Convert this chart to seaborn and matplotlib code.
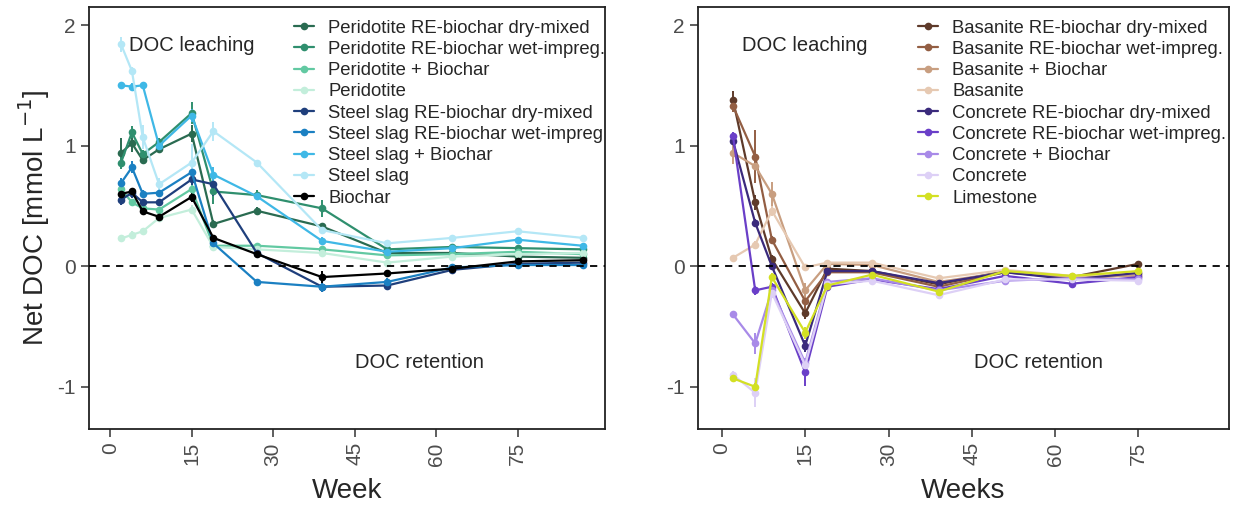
import numpy as np
import pandas as pd
import matplotlib
matplotlib.use("Agg")
import matplotlib.pyplot as plt
import seaborn as sns

# ---------------- data ----------------
weeks_left = [2, 4, 6, 9, 15, 19, 27, 39, 51, 63, 75, 87]
weeks_right = [2, 6, 9, 15, 19, 27, 39, 51, 63, 75]

labels_left = ["Peridotite RE-biochar dry-mixed", "Peridotite RE-biochar wet-impreg.",
               "Peridotite + Biochar", "Peridotite", "Steel slag RE-biochar dry-mixed",
               "Steel slag RE-biochar wet-impreg", "Steel slag + Biochar", "Steel slag", "Biochar"]
colors_left = ["#2a6b51", "#2f8f6e", "#62c9a2", "#c3eedb", "#1f3f7c",
               "#1b80c2", "#3fb8e6", "#b4e7f6", "#000000"]

per_dry = [0.94, 1.02, 0.88, 0.97, 1.10, 0.35, 0.46, 0.33, 0.11, 0.11, 0.08, 0.07]
per_wet = [0.86, 1.11, 0.93, 1.03, 1.27, 0.62, 0.59, 0.48, 0.14, 0.16, 0.15, 0.14]
per_bc = [0.64, 0.53, 0.48, 0.47, 0.64, 0.17, 0.17, 0.14, 0.09, 0.10, 0.12, 0.10]
per = [0.23, 0.26, 0.29, 0.40, 0.47, 0.16, 0.14, 0.11, 0.03, 0.08, 0.10, 0.11]
ss_dry = [0.55, 0.61, 0.53, 0.53, 0.72, 0.68, 0.11, -0.17, -0.16, -0.03, 0.02, 0.03]
ss_wet = [0.69, 0.82, 0.60, 0.61, 0.78, 0.19, -0.13, -0.17, -0.13, -0.01, 0.01, 0.01]
ss_bc = [1.50, 1.49, 1.50, 1.00, 1.25, 0.76, 0.58, 0.21, 0.12, 0.15, 0.22, 0.17]
ss = [1.84, 1.62, 1.07, 0.68, 0.86, 1.12, 0.86, 0.30, 0.19, 0.235, 0.29, 0.235]
biochar = [0.60, 0.62, 0.455, 0.41, 0.575, 0.235, 0.10, -0.09, -0.06, -0.02, 0.04, 0.05]

err_per_dry = [0.12, 0.07, 0.03, 0.03, 0.07, 0.03, 0.03, 0.03, 0.03, 0.02, 0.02, 0.02]
err_per_wet = [0.05, 0.05, 0.03, 0.03, 0.09, 0.10, 0.04, 0.07, 0.03, 0.02, 0.02, 0.02]
err_per_bc = [0.03, 0.03, 0.02, 0.02, 0.04, 0.02, 0.02, 0.02, 0.02, 0.02, 0.02, 0.02]
err_per = [0.02, 0.03, 0.02, 0.02, 0.04, 0.02, 0.02, 0.02, 0.02, 0.02, 0.02, 0.02]
err_ss_dry = [0.04, 0.04, 0.02, 0.02, 0.05, 0.10, 0.02, 0.04, 0.04, 0.02, 0.02, 0.02]
err_ss_wet = [0.04, 0.05, 0.03, 0.03, 0.06, 0.03, 0.02, 0.04, 0.03, 0.02, 0.02, 0.02]
err_ss_bc = [0.02, 0.03, 0.03, 0.04, 0.05, 0.06, 0.03, 0.03, 0.02, 0.02, 0.02, 0.02]
err_ss = [0.06, 0.03, 0.10, 0.05, 0.15, 0.08, 0.02, 0.02, 0.03, 0.02, 0.02, 0.02]
err_biochar = [0.03, 0.03, 0.02, 0.02, 0.04, 0.02, 0.02, 0.05, 0.02, 0.02, 0.02, 0.02]

labels_right = ["Basanite RE-biochar dry-mixed", "Basanite RE-biochar wet-impreg.",
                "Basanite + Biochar", "Basanite", "Concrete RE-biochar dry-mixed",
                "Concrete RE-biochar wet-impreg.", "Concrete + Biochar", "Concrete", "Limestone"]
colors_right = ["#5e3a2a", "#935e43", "#c89e80", "#e6c9b2", "#3a2a7c",
                "#6a3fc8", "#a88ae8", "#ddd0f6", "#d3e023"]

bas_dry = [1.38, 0.53, 0.06, -0.39, -0.02, -0.04, -0.15, -0.04, -0.09, 0.02]
bas_wet = [1.33, 0.91, 0.22, -0.29, -0.05, -0.05, -0.17, -0.05, -0.10, -0.07]
bas_bc = [0.94, 0.83, 0.60, -0.20, 0.02, 0.01, -0.13, -0.05, -0.09, -0.08]
bas = [0.07, 0.18, 0.46, -0.01, 0.03, 0.03, -0.10, -0.03, -0.08, -0.06]
con_dry = [1.04, 0.36, 0.00, -0.66, -0.04, -0.04, -0.14, -0.05, -0.11, -0.055]
con_wet = [1.08, -0.20, -0.17, -0.88, -0.17, -0.11, -0.19, -0.08, -0.145, -0.09]
con_bc = [-0.40, -0.64, -0.20, -0.80, -0.13, -0.10, -0.20, -0.12, -0.10, -0.11]
con = [-0.90, -1.05, -0.22, -0.82, -0.15, -0.12, -0.24, -0.11, -0.11, -0.12]
limestone = [-0.93, -1.00, -0.09, -0.55, -0.16, -0.07, -0.21, -0.04, -0.08, -0.04]

err_bas_dry = [0.07, 0.06, 0.03, 0.05, 0.02, 0.02, 0.02, 0.02, 0.02, 0.02]
err_bas_wet = [0.05, 0.22, 0.03, 0.10, 0.02, 0.02, 0.02, 0.02, 0.02, 0.02]
err_bas_bc = [0.09, 0.03, 0.10, 0.06, 0.02, 0.02, 0.02, 0.02, 0.02, 0.02]
err_bas = [0.02, 0.03, 0.04, 0.03, 0.02, 0.02, 0.02, 0.02, 0.02, 0.02]
err_con_dry = [0.03, 0.03, 0.03, 0.05, 0.02, 0.02, 0.02, 0.02, 0.02, 0.02]
err_con_wet = [0.03, 0.04, 0.03, 0.11, 0.02, 0.02, 0.02, 0.02, 0.02, 0.02]
err_con_bc = [0.02, 0.09, 0.03, 0.04, 0.02, 0.02, 0.02, 0.02, 0.02, 0.02]
err_con = [0.03, 0.12, 0.04, 0.05, 0.02, 0.02, 0.02, 0.02, 0.02, 0.02]
err_limestone = [0.02, 0.03, 0.03, 0.05, 0.02, 0.02, 0.02, 0.02, 0.02, 0.02]

values_left = [per_dry, per_wet, per_bc, per, ss_dry, ss_wet, ss_bc, ss, biochar]
errors_left = [err_per_dry, err_per_wet, err_per_bc, err_per, err_ss_dry,
               err_ss_wet, err_ss_bc, err_ss, err_biochar]
values_right = [bas_dry, bas_wet, bas_bc, bas, con_dry, con_wet, con_bc, con, limestone]
errors_right = [err_bas_dry, err_bas_wet, err_bas_bc, err_bas, err_con_dry,
                err_con_wet, err_con_bc, err_con, err_limestone]


def long_df(weeks, labels, values, errors):
    rows = []
    for lab, vals, errs in zip(labels, values, errors):
        for w, v, e in zip(weeks, vals, errs):
            rows.append({"Week": w, "DOC": v, "err": e, "Treatment": lab})
    return pd.DataFrame(rows)


df_left = long_df(weeks_left, labels_left, values_left, errors_left)
df_right = long_df(weeks_right, labels_right, values_right, errors_right)

# ---------------- style ----------------
sns.set_style("ticks")
plt.rcParams["font.family"] = ["Liberation Sans", "DejaVu Sans"]
plt.rcParams["axes.unicode_minus"] = False

W, H = 1234, 505
fig = plt.figure(figsize=(W / 100, H / 100), dpi=100)
axL = fig.add_axes([89 / W, 1 - 429 / H, (605 - 89) / W, (429 - 7) / H])
axR = fig.add_axes([698 / W, 1 - 429 / H, (1229 - 698) / W, (429 - 7) / H])


def draw(ax, df, labels, colors, xlim, xlabel, leg_x):
    pal = dict(zip(labels, colors))
    for lab in labels:
        sub = df[df["Treatment"] == lab]
        ax.vlines(sub["Week"], sub["DOC"] - sub["err"], sub["DOC"] + sub["err"],
                  color=pal[lab], lw=1.4, zorder=2)
    sns.lineplot(data=df, x="Week", y="DOC", hue="Treatment", hue_order=labels,
                 palette=pal, marker="o", markersize=5.5, markeredgewidth=0,
                 linewidth=1.6, estimator=None, sort=True, errorbar=None, ax=ax)
    ax.axhline(0, color="black", lw=1.3, ls=(0, (4, 3.5)), zorder=5)
    ax.set_xlim(*xlim)
    ax.set_ylim(-1.35, 2.15)
    ax.set_xticks([0, 15, 30, 45, 60, 75])
    ax.set_yticks([-1, 0, 1, 2])
    ax.tick_params(axis="both", direction="out", length=6, width=1.1,
                   labelsize=15, labelcolor="#4d4d4d", color="#333333")
    ax.tick_params(axis="x", labelrotation=90)
    for s in ax.spines.values():
        s.set_visible(True)
        s.set_linewidth(1.3)
        s.set_color("#222222")
    ax.set_xlabel(xlabel, fontsize=20, labelpad=9)
    ax.text(15, 1.83, "DOC leaching", ha="center", va="center", fontsize=14.5)
    ax.text(57, -0.8, "DOC retention", ha="center", va="center", fontsize=14.5)
    handles, labs = ax.get_legend_handles_labels()
    ax.legend(handles, labs, loc="upper left", bbox_to_anchor=(leg_x, 0.97),
              frameon=False, fontsize=13.3, handlelength=1.1, handletextpad=0.75,
              labelspacing=0.23, borderaxespad=0, borderpad=0)


draw(axL, df_left, labels_left, colors_left, (-3.9, 91.1), "Week", 0.397)
draw(axR, df_right, labels_right, colors_right, (-4.3, 91.3), "Weeks", 0.414)
axL.set_ylabel("Net DOC [mmol L$^{-1}$]", fontsize=20, labelpad=4)
axR.set_ylabel("")

fig.savefig("out.png", dpi=100)
